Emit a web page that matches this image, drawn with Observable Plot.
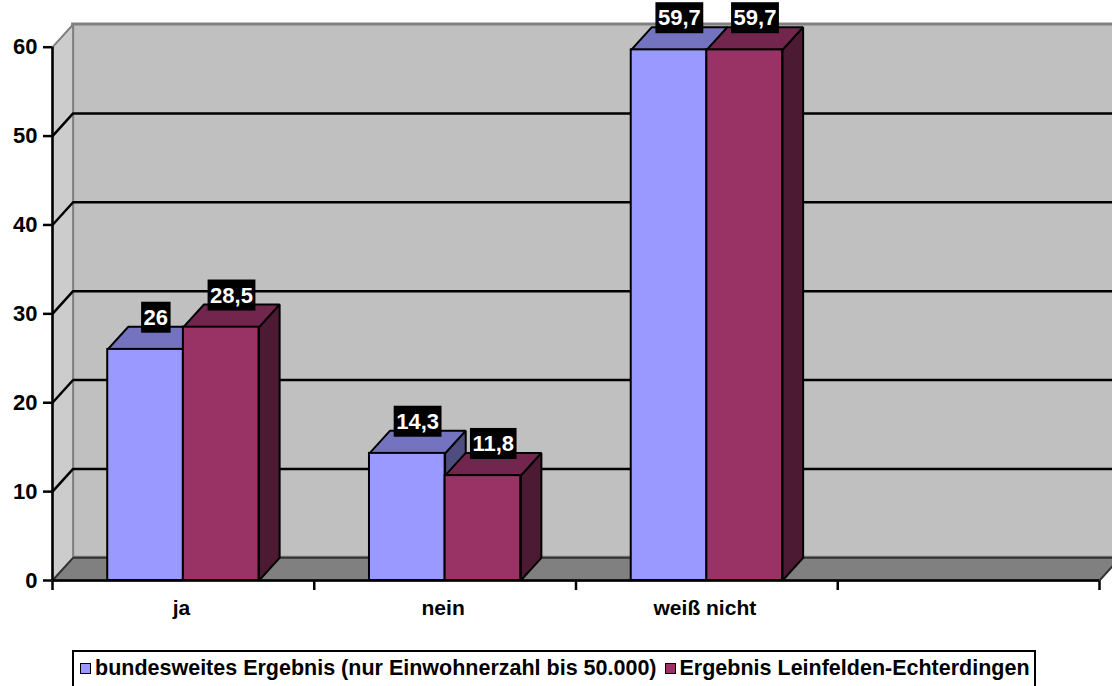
<!DOCTYPE html>
<html>
<head>
<meta charset="utf-8">
<script src="https://cdn.jsdelivr.net/npm/d3@7"></script>
<script src="https://cdn.jsdelivr.net/npm/@observablehq/plot@0.6"></script>
<style>
  html, body { margin: 0; padding: 0; background: #fff; width: 1112px; height: 686px; overflow: hidden; }
  body { position: relative; font-family: "Liberation Sans", Arial, sans-serif; }
  #chart svg g[aria-label^="y-axis"] line, #chart svg g[aria-label^="y-axis"] path,
  #chart svg g[aria-label^="x-axis"] line, #chart svg g[aria-label^="x-axis"] path {
    stroke: #000; stroke-width: 2.5px;
  }
  #legend {
    position: absolute; left: 72px; top: 650px;
    border: 2px solid #000; background: #fff;
    padding: 4px 4px 8px 6px;
    display: flex; align-items: center;
    font: bold 21.5px "Liberation Sans", Arial, sans-serif;
    line-height: 24px; white-space: nowrap; color: #000;
  }
  #legend .item { display: flex; align-items: center; margin-right: 8px; }
  #legend .item:last-child { margin-right: 0; }
  #legend .sw { width: 9px; height: 9px; border: 1.5px solid #000; margin-right: 4px; }
</style>
</head>
<body>
<div id="chart"></div>
<div id="legend"></div>
<script>
// Survey answers (percent); the fourth category slot is left empty.
const categories = ["ja", "nein", "weiß nicht", ""];
const seriesNames = [
  "bundesweites Ergebnis (nur Einwohnerzahl bis 50.000)",
  "Ergebnis Leinfelden-Echterdingen"
];
const bundesweit = [26, 14.3, 59.7, null];
const leinfelden = [28.5, 11.8, 59.7, null];
const yTicks = [0, 10, 20, 30, 40, 50, 60];
const seriesColors = ["#9999FF", "#993366"];

// Pseudo-3D geometry, expressed in scale units
const N = categories.length;
const YMAX = yTicks[yTicks.length - 1];
const BW = 0.289;   // bar width as a fraction of one category slot
const DX = 0.0787;  // depth shift along x
const DY = 2.554;   // depth shift along y

const shade = (c, f) => { const r = d3.rgb(c); return d3.rgb(r.r * f, r.g * f, r.b * f).formatHex(); };
const fmt = v => String(v).replace(".", ",");

const series = [bundesweit, leinfelden];
const bars = [];
categories.forEach((c, i) => {
  series.forEach((vals, s) => {
    const v = vals[i];
    if (v == null) return;
    const x0 = i + 0.5 + (s - 1) * BW;
    bars.push({ id: `${i}-${s}`, s, v, x0, x1: x0 + BW });
  });
});

const poly = (id, pts) => pts.map(([x, y]) => ({ id, x, y }));
const topFaces = s => bars.filter(b => b.s === s).flatMap(b =>
  poly(b.id, [[b.x0, b.v], [b.x1, b.v], [b.x1 + DX, b.v + DY], [b.x0 + DX, b.v + DY]]));
const sideFaces = s => bars.filter(b => b.s === s).flatMap(b =>
  poly(b.id, [[b.x1, 0], [b.x1 + DX, DY], [b.x1 + DX, b.v + DY], [b.x1, b.v]]));

const sideWall = poly("side", [[0, 0], [DX, DY], [DX, YMAX + DY], [0, YMAX]]);
const floor = poly("floor", [[0, 0], [N, 0], [N + DX, DY], [DX, DY]]);
const grid = yTicks.filter(t => t > 0 && t < YMAX)
  .flatMap(t => poly(t, [[0, t], [DX, t + DY], [N + DX, t + DY]]));

const closed = { x: "x", y: "y", z: "id", curve: "linear-closed", strokeLinejoin: "miter" };

const barMarks = series.flatMap((_, s) => [
  Plot.line(sideFaces(s), { ...closed, fill: shade(seriesColors[s], 0.5), stroke: "#000", strokeWidth: 2 }),
  Plot.line(topFaces(s), { ...closed, fill: shade(seriesColors[s], 0.75), stroke: "#000", strokeWidth: 2 }),
  Plot.rect(bars.filter(b => b.s === s), { x1: "x0", x2: "x1", y1: 0, y2: "v", fill: seriesColors[s], stroke: "#000", strokeWidth: 2 })
]);

const svg = Plot.plot({
  width: 1112,
  height: 630,
  marginLeft: 52,
  marginRight: 13,
  marginTop: 46.7,
  marginBottom: 50,
  x: { domain: [0, N], ticks: d3.range(N + 1), tickSize: 10, tickFormat: () => "", label: null },
  y: { domain: [0, YMAX], ticks: yTicks, tickSize: 9, tickPadding: 6, label: null },
  style: { fontFamily: "'Liberation Sans', Arial, sans-serif", fontSize: "22px", fontWeight: "bold", color: "#000", background: "transparent" },
  marks: [
    // walls
    Plot.rect([{}], { x1: DX, x2: N + DX, y1: DY, y2: YMAX + DY, fill: "#c0c0c0", stroke: "#808080", strokeWidth: 3 }),
    Plot.line(sideWall, { ...closed, fill: "#cccccc", stroke: "#808080", strokeWidth: 2 }),
    // gridlines along side and back wall
    Plot.line(grid, { x: "x", y: "y", z: "id", stroke: "#000", strokeWidth: 2.5 }),
    // floor
    Plot.line(floor, { ...closed, fill: "#808080", stroke: "#333", strokeWidth: 2 }),
    // bars
    ...barMarks,
    // front axis lines
    Plot.ruleX([0], { y1: 0, y2: YMAX, stroke: "#000", strokeWidth: 2.5 }),
    Plot.ruleY([0], { x1: 0, x2: N, stroke: "#000", strokeWidth: 2.5 }),
    // category labels
    Plot.text(categories, { x: (d, i) => i + 0.5, y: 0, dy: 28, dx: -2, text: d => d, fontSize: 21, fontWeight: "bold", fill: "#000" }),
    // value labels
    Plot.text(bars, {
      x: b => (b.x0 + b.x1) / 2 + DX / 2, y: b => b.v + DY, dy: -9,
      text: b => fmt(b.v), fill: "#fff", fontSize: 22, fontWeight: "bold", ariaLabel: "value-labels"
    })
  ]
});
document.getElementById("chart").append(svg);

// black boxes behind the value labels
const ns = "http://www.w3.org/2000/svg";
let labelGroup = svg.querySelector('g[aria-label="value-labels"]');
if (!labelGroup) {
  labelGroup = Array.from(svg.querySelectorAll("g")).find(g => (g.getAttribute("fill") || "").toLowerCase() === "#fff");
}
if (labelGroup) {
  const sr = svg.getBoundingClientRect();
  const boxes = document.createElementNS(ns, "g");
  labelGroup.querySelectorAll("text").forEach(t => {
    const r = t.getBoundingClientRect();
    const rect = document.createElementNS(ns, "rect");
    rect.setAttribute("x", r.left - sr.left - 2.5);
    rect.setAttribute("y", r.top - sr.top - 3);
    rect.setAttribute("width", r.width + 5);
    rect.setAttribute("height", r.height + 6);
    rect.setAttribute("fill", "#000");
    boxes.append(rect);
  });
  labelGroup.parentNode.insertBefore(boxes, labelGroup);
}

// legend
const legend = document.getElementById("legend");
seriesNames.forEach((name, s) => {
  const item = document.createElement("span");
  item.className = "item";
  const sw = document.createElement("span");
  sw.className = "sw";
  sw.style.background = seriesColors[s];
  item.append(sw, document.createTextNode(name));
  legend.append(item);
});
</script>
</body>
</html>
